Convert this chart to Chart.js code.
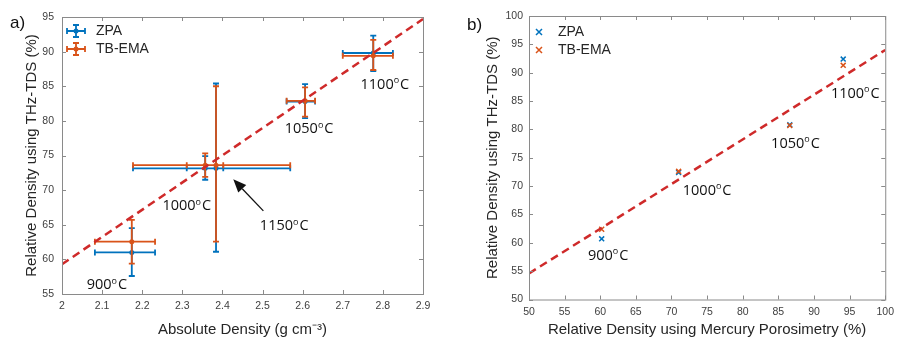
<!DOCTYPE html>
<html lang="en">
<head>
<meta charset="UTF-8">
<title>Relative density from THz-TDS</title>
<script src="https://cdn.jsdelivr.net/npm/chart.js"></script>
<style>
    body { margin: 0; background: #fff; }
    .wrap { position: relative; width: 900px; height: 339px; }
    .panel { position: absolute; top: 0; width: 450px; height: 339px; }
    #panelA { left: 0; }
    #panelB { left: 450px; }
</style>
</head>
<body>
<div class="wrap">
    <div class="panel" id="panelA"><canvas id="chartA" width="450" height="339"></canvas></div>
    <div class="panel" id="panelB"><canvas id="chartB" width="450" height="339"></canvas></div>
</div>
<script>
// ---------- a) absolute density vs THz relative density ----------
const tempsA = ['900', '1000', '1150', '1050', '1100'];
const absDensity = [2.174, 2.357, 2.384, 2.606, 2.776];
const absDensityLow = [2.082, 2.311, 2.177, 2.560, 2.700];
const absDensityHigh = [2.232, 2.402, 2.569, 2.631, 2.825];

const zpaA = [61.0, 73.15, 73.15, 82.8, 89.8];
const zpaALow = [57.6, 71.5, 61.1, 80.4, 87.2];
const zpaAHigh = [64.5, 74.9, 85.4, 85.3, 92.3];

const tbemaA = [62.55, 73.6, 73.6, 82.9, 89.4];
const tbemaALow = [59.4, 71.9, 62.55, 80.6, 87.35];
const tbemaAHigh = [65.7, 75.3, 85.0, 84.85, 91.7];

const fitAX = [2, 2.9];
const fitAY = [59.3, 94.7];

// label anchors (data coords) for panel a
const labelAX = [2.112, 2.311, 2.554, 2.616, 2.805];
const labelAY = [56.45, 67.85, 64.96, 79.0, 85.4];
const arrowA = { fromX: 2.502, fromY: 67.0, toX: 2.427, toY: 71.56 };

// ---------- b) mercury porosimetry vs THz relative density ----------
const tempsB = ['900', '1000', '1050', '1100'];
const mercury = [60.2, 71.0, 86.6, 94.1];
const zpaB = [60.7, 72.4, 80.8, 92.4];
const tbemaB = [62.4, 72.6, 80.7, 91.3];

const fitBX = [50, 100];
const fitBY = [54.6, 94.0];

const labelBX = [61.1, 75.0, 87.4, 95.8];
const labelBY = [57.9, 69.4, 77.7, 86.5];

const BLUE = '#0072bd';
const ORANGE = '#d95319';
const RED = '#cf2a2a';
const BOX = '#8a8a8a';
const TXT = '#262626';
const SANS = '"Liberation Sans", Arial, sans-serif';

function pts(xs, ys) {
    return xs.map((x, i) => ({ x: x, y: ys[i] }));
}

function drawTemp(ctx, text, cx, cy) {
    const big = '14.5px "Open Sans", sans-serif';
    const small = '9px "Open Sans", sans-serif';
    ctx.font = big;
    const w1 = ctx.measureText(text).width;
    const w3 = ctx.measureText('C').width;
    ctx.font = small;
    const w2 = ctx.measureText('o').width + 1;
    let x = cx - (w1 + w2 + w3) / 2;
    const base = cy + 5.3;
    ctx.fillStyle = '#111';
    ctx.textAlign = 'left';
    ctx.textBaseline = 'alphabetic';
    ctx.font = big;
    ctx.fillText(text, x, base);
    x += w1;
    ctx.font = small;
    ctx.fillText('o', x, base - 5.6);
    x += w2;
    ctx.font = big;
    ctx.fillText('C', x, base);
}

function drawBox(chart) {
    const { ctx, chartArea: a, scales: { x, y } } = chart;
    ctx.save();
    ctx.strokeStyle = BOX;
    ctx.lineWidth = 1;
    ctx.strokeRect(a.left + 0.5, a.top + 0.5, a.right - a.left, a.bottom - a.top);
    const tl = 4;
    ctx.beginPath();
    x.ticks.forEach(t => {
        const px = Math.round(x.getPixelForValue(t.value)) + 0.5;
        ctx.moveTo(px, a.bottom); ctx.lineTo(px, a.bottom - tl);
        ctx.moveTo(px, a.top); ctx.lineTo(px, a.top + tl);
    });
    y.ticks.forEach(t => {
        const py = Math.round(y.getPixelForValue(t.value)) + 0.5;
        ctx.moveTo(a.left, py); ctx.lineTo(a.left + tl, py);
        ctx.moveTo(a.right, py); ctx.lineTo(a.right - tl, py);
    });
    ctx.stroke();
    ctx.restore();
}

function errorBars(chart, xs, ys, xl, xh, yl, yh, color) {
    const { ctx, scales: { x, y } } = chart;
    const cap = 3;
    ctx.save();
    ctx.strokeStyle = color;
    ctx.lineWidth = 1.8;
    ctx.beginPath();
    for (let i = 0; i < xs.length; i++) {
        const px = x.getPixelForValue(xs[i]);
        const py = y.getPixelForValue(ys[i]);
        const y1 = y.getPixelForValue(yl[i]);
        const y2 = y.getPixelForValue(yh[i]);
        const x1 = x.getPixelForValue(xl[i]);
        const x2 = x.getPixelForValue(xh[i]);
        ctx.moveTo(px, y1); ctx.lineTo(px, y2);
        ctx.moveTo(px - cap, y1); ctx.lineTo(px + cap, y1);
        ctx.moveTo(px - cap, y2); ctx.lineTo(px + cap, y2);
        ctx.moveTo(x1, py); ctx.lineTo(x2, py);
        ctx.moveTo(x1, py - cap); ctx.lineTo(x1, py + cap);
        ctx.moveTo(x2, py - cap); ctx.lineTo(x2, py + cap);
    }
    ctx.stroke();
    ctx.restore();
}

function legendIconErr(ctx, cx, cy, color) {
    ctx.save();
    ctx.strokeStyle = color;
    ctx.fillStyle = color;
    ctx.lineWidth = 1.8;
    ctx.beginPath();
    ctx.moveTo(cx - 9, cy); ctx.lineTo(cx + 9, cy);
    ctx.moveTo(cx - 9, cy - 3); ctx.lineTo(cx - 9, cy + 3);
    ctx.moveTo(cx + 9, cy - 3); ctx.lineTo(cx + 9, cy + 3);
    ctx.moveTo(cx, cy - 6); ctx.lineTo(cx, cy + 6);
    ctx.moveTo(cx - 3, cy - 6); ctx.lineTo(cx + 3, cy - 6);
    ctx.moveTo(cx - 3, cy + 6); ctx.lineTo(cx + 3, cy + 6);
    ctx.stroke();
    ctx.beginPath();
    ctx.arc(cx, cy, 2.5, 0, Math.PI * 2);
    ctx.fill();
    ctx.restore();
}

function legendIconCross(ctx, cx, cy, color) {
    ctx.save();
    ctx.strokeStyle = color;
    ctx.lineWidth = 1.5;
    ctx.beginPath();
    ctx.moveTo(cx - 3, cy - 3); ctx.lineTo(cx + 3, cy + 3);
    ctx.moveTo(cx + 3, cy - 3); ctx.lineTo(cx - 3, cy + 3);
    ctx.stroke();
    ctx.restore();
}

function legendText(ctx, text, x, y) {
    ctx.save();
    ctx.fillStyle = TXT;
    ctx.font = '14px ' + SANS;
    ctx.textAlign = 'left';
    ctx.textBaseline = 'middle';
    ctx.fillText(text, x, y);
    ctx.restore();
}

function panelLetter(ctx, text, x, y) {
    ctx.save();
    ctx.fillStyle = '#111';
    ctx.font = '17px ' + SANS;
    ctx.textAlign = 'left';
    ctx.textBaseline = 'middle';
    ctx.fillText(text, x, y);
    ctx.restore();
}

function axisScales(xMin, xMax, xStep, yMin, yMax, yStep, xTitle, yTitle, yW, xH, yTitlePad, yTickPad, fmt) {
    const tickFont = { family: SANS, size: 10.5 };
    const titleFont = { family: SANS, size: 15 };
    return {
        x: {
            type: 'linear', min: xMin, max: xMax,
            afterFit: s => { s.height = xH; },
            grid: { display: false, drawTicks: false },
            border: { display: false },
            ticks: { stepSize: xStep, padding: 6, color: '#404040', font: tickFont,
                     maxRotation: 0, autoSkip: false, callback: fmt },
            title: { display: true, text: xTitle, color: TXT, font: titleFont, padding: { top: 0, bottom: 0 } }
        },
        y: {
            type: 'linear', min: yMin, max: yMax,
            afterFit: s => { s.width = yW; },
            grid: { display: false, drawTicks: false },
            border: { display: false },
            ticks: { stepSize: yStep, padding: yTickPad, color: '#404040', font: tickFont },
            title: { display: true, text: yTitle, color: TXT, font: titleFont, padding: { top: yTitlePad, bottom: 0 } }
        }
    };
}

// ---------- chart a ----------
const panelAPlugin = {
    id: 'panelA',
    beforeDatasetDraw(chart, args) {
        if (args.index === 0) errorBars(chart, absDensity, zpaA, absDensityLow, absDensityHigh, zpaALow, zpaAHigh, BLUE);
        if (args.index === 1) errorBars(chart, absDensity, tbemaA, absDensityLow, absDensityHigh, tbemaALow, tbemaAHigh, ORANGE);
    },
    afterDraw(chart) {
        const { ctx, scales: { x, y } } = chart;
        drawBox(chart);
        tempsA.forEach((t, i) => drawTemp(ctx, t, x.getPixelForValue(labelAX[i]), y.getPixelForValue(labelAY[i])));
        // arrow to 1150 point
        const x0 = x.getPixelForValue(arrowA.fromX), y0 = y.getPixelForValue(arrowA.fromY);
        const x1 = x.getPixelForValue(arrowA.toX), y1 = y.getPixelForValue(arrowA.toY);
        const ang = Math.atan2(y1 - y0, x1 - x0);
        const hl = 13, hw = 5.5;
        const bx = x1 - hl * Math.cos(ang), by = y1 - hl * Math.sin(ang);
        ctx.save();
        ctx.strokeStyle = '#111';
        ctx.fillStyle = '#111';
        ctx.lineWidth = 1.3;
        ctx.beginPath(); ctx.moveTo(x0, y0); ctx.lineTo(bx, by); ctx.stroke();
        ctx.beginPath();
        ctx.moveTo(x1, y1);
        ctx.lineTo(bx + hw * Math.sin(ang), by - hw * Math.cos(ang));
        ctx.lineTo(bx - hw * Math.sin(ang), by + hw * Math.cos(ang));
        ctx.closePath(); ctx.fill();
        ctx.restore();
        legendIconErr(ctx, 76, 31, BLUE);
        legendText(ctx, 'ZPA', 96, 31);
        legendIconErr(ctx, 76, 49, ORANGE);
        legendText(ctx, 'TB-EMA', 96, 49);
        panelLetter(ctx, 'a)', 10, 23);
    }
};

new Chart(document.getElementById('chartA'), {
    type: 'scatter',
    data: {
        datasets: [
            { label: 'ZPA', data: pts(absDensity, zpaA), order: 3,
              backgroundColor: BLUE, borderColor: BLUE, pointRadius: 2.5, borderWidth: 0 },
            { label: 'TB-EMA', data: pts(absDensity, tbemaA), order: 2,
              backgroundColor: ORANGE, borderColor: ORANGE, pointRadius: 2.5, borderWidth: 0 },
            { label: 'fit', data: pts(fitAX, fitAY), order: 1, showLine: true,
              borderColor: RED, borderWidth: 2.5, borderDash: [8, 5], pointRadius: 0 }
        ]
    },
    options: {
        responsive: false,
        animation: false,
        layout: { padding: { top: 17, right: 27, bottom: 0, left: 0 } },
        plugins: { legend: { display: false }, tooltip: { enabled: false } },
        scales: axisScales(2, 2.9, 0.1, 55, 95, 5,
            'Absolute Density (g cm\u207B\u00B3)', 'Relative Density using THz-TDS (%)',
            62, 45, 23, 8, v => String(Number(v.toFixed(1))))
    },
    plugins: [panelAPlugin]
});

// ---------- chart b ----------
const panelBPlugin = {
    id: 'panelB',
    afterDraw(chart) {
        const { ctx, scales: { x, y } } = chart;
        drawBox(chart);
        tempsB.forEach((t, i) => drawTemp(ctx, t, x.getPixelForValue(labelBX[i]), y.getPixelForValue(labelBY[i])));
        legendIconCross(ctx, 89, 32, BLUE);
        legendText(ctx, 'ZPA', 108, 32);
        legendIconCross(ctx, 89, 50, ORANGE);
        legendText(ctx, 'TB-EMA', 108, 50);
        panelLetter(ctx, 'b)', 17, 25);
    }
};

new Chart(document.getElementById('chartB'), {
    type: 'scatter',
    data: {
        datasets: [
            { label: 'ZPA', data: pts(mercury, zpaB), order: 3, pointStyle: 'crossRot',
              borderColor: BLUE, pointRadius: 3.5, pointBorderWidth: 1.5 },
            { label: 'TB-EMA', data: pts(mercury, tbemaB), order: 2, pointStyle: 'crossRot',
              borderColor: ORANGE, pointRadius: 3.5, pointBorderWidth: 1.5 },
            { label: 'fit', data: pts(fitBX, fitBY), order: 1, showLine: true,
              borderColor: RED, borderWidth: 2.5, borderDash: [8, 5], pointRadius: 0 }
        ]
    },
    options: {
        responsive: false,
        animation: false,
        layout: { padding: { top: 16, right: 10, bottom: 0, left: 0 } },
        plugins: { legend: { display: false }, tooltip: { enabled: false } },
        scales: axisScales(50, 100, 5, 50, 100, 5,
            'Relative Density using Mercury Porosimetry (%)', 'Relative Density using THz-TDS (%)',
            79, 39.5, 34, 6, v => String(v))
    },
    plugins: [panelBPlugin]
});
</script>
</body>
</html>
